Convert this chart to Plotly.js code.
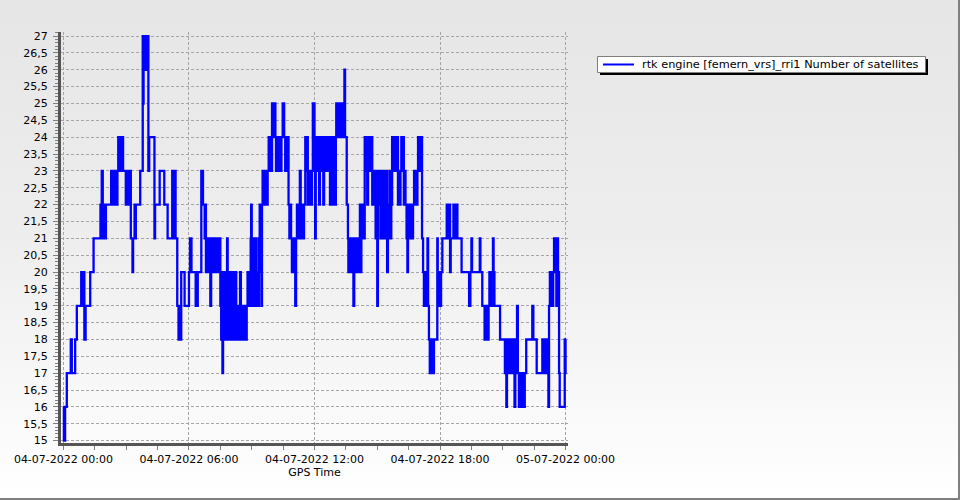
<!DOCTYPE html>
<html>
<head>
<meta charset="utf-8">
<script src="https://cdn.plot.ly/plotly-3.0.1.min.js"></script>
<style>
  html, body { margin: 0; padding: 0; }
  #wrap { position: relative; width: 960px; height: 500px; box-sizing: border-box;
          background: linear-gradient(to bottom, #e6e6e6 0%, #ededed 45%, #ffffff 100%);
          border-right: 2px solid #808080; border-bottom: 2px solid #808080; overflow: hidden; }
  #chart { position: absolute; left: 0; top: 0; width: 960px; height: 500px; }
</style>
</head>
<body>
<div id="wrap"><div id="chart"></div></div>
<script>
// Hours after 04-07-2022 00:00 (GPS time) at which the satellite count changes
const hours = [
  0.00,0.02,0.04,0.06,0.08,0.16,0.35,0.40,0.56,0.64,
  0.85,0.88,0.92,0.96,0.99,1.00,1.06,1.28,1.44,1.77,
  1.79,1.81,1.83,1.88,1.90,1.94,1.97,2.03,2.28,2.31,
  2.34,2.38,2.41,2.45,2.48,2.52,2.58,2.62,2.64,2.67,
  2.70,2.80,2.85,2.98,3.08,3.11,3.14,3.18,3.20,3.22,
  3.30,3.33,3.40,3.43,3.46,3.67,3.79,3.81,3.83,3.86,
  3.89,3.93,3.96,4.00,4.03,4.06,4.10,4.35,4.38,4.60,
  4.82,4.98,5.20,5.23,5.26,5.29,5.32,5.36,5.44,5.50,
  5.52,5.55,5.63,5.79,6.00,6.05,6.12,6.32,6.42,6.59,
  6.67,
  6.75,6.78,6.81,6.84,6.87,6.90,6.94,6.98,7.02,7.06,
  7.10,7.14,7.18,7.22,7.26,7.30,7.34,7.38,7.42,7.46,
  7.50,7.54,7.57,7.60,7.63,7.66,7.69,7.72,7.75,7.78,
  7.82,7.85,7.88,7.91,7.94,7.97,8.00,8.04,8.07,8.10,
  8.13,8.16,8.20,8.23,8.26,8.29,8.32,8.36,8.40,8.44,
  8.48,8.52,8.56,8.60,8.64,8.68,8.72,8.76,8.80,8.84,
  8.88,8.92,8.95,8.97,9.00,9.02,9.06,9.10,9.14,9.18,
  9.22,9.26,9.30,9.34,9.38,9.42,9.46,9.49,9.52,9.56,
  9.60,9.64,9.68,9.72,9.76,9.81,9.85,9.88,9.92,9.97,
  10.02,10.05,10.13,10.16,10.19,10.22,10.26,10.30,10.34,10.38,
  10.42,10.48,10.55,10.60,10.64,10.68,10.72,10.76,10.80,10.84,
  10.88,10.92,10.96,11.00,11.04,11.08,11.12,11.16,11.20,11.24,
  11.27,11.30,11.34,11.38,11.42,11.46,11.50,11.56,11.60,11.64,
  11.68,11.72,11.76,11.80,11.84,11.88,11.92,12.00,12.03,12.06,
  12.10,12.14,12.18,12.22,12.26,12.30,12.34,12.38,12.42,12.46,
  12.50,12.54,12.58,12.62,12.66,12.70,12.74,12.78,12.82,12.86,
  12.90,12.94,12.98,13.02,13.04,13.08,13.12,13.16,13.20,13.24,
  13.28,13.32,13.36,13.40,13.43,13.46,13.54,13.60,13.62,13.66,
  13.70,13.74,13.78,13.82,13.86,13.90,13.94,13.98,14.02,14.06,
  14.10,14.14,
  14.17,14.21,14.24,14.28,14.32,14.36,14.40,14.44,14.48,14.52,
  14.56,14.60,14.64,14.68,14.72,14.76,14.80,14.84,14.88,14.92,
  14.96,15.00,15.03,15.07,15.11,15.15,15.19,15.23,15.27,15.31,
  15.35,15.39,15.43,15.47,15.51,15.55,15.59,15.63,15.67,15.71,
  15.75,15.79,15.83,15.87,15.91,15.95,15.99,16.03,16.07,16.11,
  16.15,16.19,16.23,16.27,16.31,16.35,16.40,16.44,16.47,16.51,
  16.55,16.59,16.63,16.67,16.71,16.76,16.80,16.84,16.88,16.92,
  16.95,16.99,17.03,17.07,17.10,17.14,17.19,17.23,17.27,17.31,
  17.35,17.40,17.43,17.47,17.51,17.55,17.59,17.63,17.67,17.71,
  17.87,17.89,17.95,17.98,18.02,18.05,18.11,18.32,18.35,18.38,
  18.42,18.45,18.48,18.51,18.64,18.68,18.72,18.76,18.80,18.83,
  19.03,19.39,19.45,19.50,19.53,19.90,19.93,20.02,20.13,20.16,
  20.20,20.24,20.28,20.32,20.36,20.40,20.44,20.48,20.53,20.56,
  20.60,20.87,21.10,21.13,21.17,21.20,21.24,21.28,21.32,21.36,
  21.40,21.44,21.48,21.52,21.56,21.60,21.64,21.68,21.72,21.77,
  21.81,21.85,21.89,21.93,21.97,22.01,22.05,22.12,22.41,22.46,
  22.62,22.89,22.93,22.97,23.01,23.05,23.09,23.13,23.18,23.21,
  23.25,23.29,23.33,23.37,23.41,23.45,23.48,23.52,23.56,23.60,
  23.64,23.69,23.72,23.96,23.98,24.00
];

// Number of satellites, one per entry in hours
const satellites = [
  16,15,16,15,16,17,18,17,18,19,
  20,19,20,19,20,18,19,20,21,22,
  21,22,23,22,21,22,21,22,23,22,
  23,22,23,22,23,22,23,24,23,24,
  23,24,23,22,23,22,23,22,23,21,
  20,21,22,21,22,23,27,25,27,26,
  27,26,27,26,27,23,24,21,22,23,
  22,21,23,21,23,22,23,21,19,18,
  19,18,20,19,20,21,20,19,20,23,
  22,
  21,22,20,21,20,21,20,21,19,21,
  20,21,20,21,20,21,20,21,20,21,
  19,18,20,17,19,18,20,18,19,18,
  21,18,20,18,19,18,20,18,20,18,
  20,19,18,20,18,19,18,19,18,20,
  18,19,18,19,18,19,18,19,20,19,
  20,19,21,22,21,19,21,20,19,21,
  19,20,19,21,22,20,19,22,23,22,
  23,22,23,22,23,24,23,24,23,25,
  24,25,24,23,24,23,24,23,24,23,
  24,25,24,23,24,23,24,22,21,22,
  21,20,21,20,21,19,21,22,21,22,
  21,23,22,21,22,21,22,24,23,24,
  22,23,22,23,22,23,25,23,21,23,
  24,23,24,22,24,23,24,23,22,24,
  23,24,23,24,23,24,22,24,23,22,
  24,23,22,24,25,24,25,24,25,24,
  25,24,25,24,26,24,22,21,20,21,
  20,21,20,21,19,21,20,21,20,21,
  20,21,
  22,20,22,21,22,21,24,23,24,22,
  24,23,24,23,24,22,23,22,23,21,
  23,19,23,22,23,21,23,22,21,23,
  21,22,23,20,22,21,23,21,22,24,
  23,24,23,24,23,24,22,23,22,23,
  24,23,24,22,23,22,21,20,22,21,
  22,21,22,21,22,23,22,23,22,23,
  24,23,24,23,24,21,20,19,20,19,
  20,21,19,18,17,18,17,18,17,18,
  21,20,19,20,19,20,21,22,21,22,
  21,22,20,21,22,21,22,21,22,21,
  20,19,20,21,20,21,20,19,18,19,
  18,19,18,19,20,19,20,19,21,20,
  19,18,17,18,16,18,17,18,17,18,
  17,18,17,18,16,18,17,19,17,16,
  17,16,17,16,17,16,17,18,19,18,
  17,18,17,18,17,18,17,18,16,19,
  20,19,20,19,20,21,20,21,19,21,
  20,17,16,18,17,18
];

const seriesName = 'rtk engine [femern_vrs]_rri1 Number of satellites';
const xTitle = 'GPS Time';

const base = Date.UTC(2022, 6, 4, 0, 0, 0);
function stamp(h) {
  return new Date(base + Math.round(h * 3600000)).toISOString().replace('T', ' ').slice(0, 19);
}
const xs = hours.map(stamp);

const HOUR = 3600000;
const W = 960, H = 500, ML = 61, MR = 392, MT = 32, MB = 57;
const PW = W - ML - MR, PH = H - MT - MB;
const px = v => (v - ML) / PW;   // page pixel -> paper x
const py = v => (H - MB - v) / PH; // page pixel -> paper y

const trace = {
  x: xs, y: satellites, type: 'scatter', mode: 'lines', name: seriesName,
  line: { color: '#0000ff', width: 2.3, shape: 'hv' },
  showlegend: false
};

const font = { family: 'DejaVu Sans, Verdana, sans-serif', size: 11, color: '#000' };
const legendFont = { family: 'DejaVu Sans, Verdana, sans-serif', size: 11.3, color: '#000' };

const shapes = [
  // legend shadow
  { type: 'rect', xref: 'paper', yref: 'paper', x0: px(600), x1: px(928), y0: py(59), y1: py(75),
    fillcolor: '#000000', line: { width: 0 }, layer: 'above' },
  // legend box
  { type: 'rect', xref: 'paper', yref: 'paper', x0: px(597.5), x1: px(925.5), y0: py(56.5), y1: py(72.5),
    fillcolor: '#ffffff', line: { color: '#808080', width: 1 }, layer: 'above' },
  // legend line sample
  { type: 'line', xref: 'paper', yref: 'paper', x0: px(603), x1: px(634), y0: py(64.5), y1: py(64.5),
    line: { color: '#0000ff', width: 2 }, layer: 'above' }
];

const annotations = [
  { xref: 'paper', yref: 'paper', x: px(640), y: py(64.5), xanchor: 'left', yanchor: 'middle',
    text: seriesName, showarrow: false, font: legendFont }
];

const layout = {
  width: W, height: H,
  margin: { l: ML, r: MR, t: MT, b: MB, pad: 0 },
  paper_bgcolor: 'rgba(0,0,0,0)', plot_bgcolor: 'rgba(0,0,0,0)',
  separators: ', ',
  font: font,
  showlegend: false,
  xaxis: {
    type: 'date',
    range: ['2022-07-03 23:53:00', '2022-07-05 00:07:00'],
    tick0: '2022-07-04 00:00:00', dtick: 6 * HOUR,
    tickformat: '%d-%m-%Y %H:%M',
    ticks: 'outside', ticklen: 4, tickwidth: 1, tickcolor: '#808080',
    showgrid: true, gridcolor: '#a6a6a6', gridwidth: 1, griddash: '3px,2px',
    showline: true, linecolor: '#555555', linewidth: 3,
    zeroline: false,
    minor: { dtick: 1.5 * HOUR, ticks: 'outside', ticklen: 4, tickcolor: '#808080', showgrid: false },
    title: { text: xTitle, font: font, standoff: 4 },
    tickfont: font
  },
  yaxis: {
    range: [14.93, 27.12],
    tick0: 15, dtick: 0.5,
    ticks: 'outside', ticklen: 5, tickwidth: 1, tickcolor: '#808080',
    ticklabelstandoff: 3,
    showgrid: true, gridcolor: '#a6a6a6', gridwidth: 1, griddash: '3px,2px',
    showline: true, linecolor: '#555555', linewidth: 3,
    zeroline: false,
    minor: { dtick: 0.1, ticks: 'outside', ticklen: 3, tickcolor: '#808080', showgrid: false },
    tickfont: font
  },
  shapes: shapes,
  annotations: annotations
};

Plotly.newPlot('chart', [trace], layout, { displayModeBar: false, staticPlot: true });
</script>
</body>
</html>
